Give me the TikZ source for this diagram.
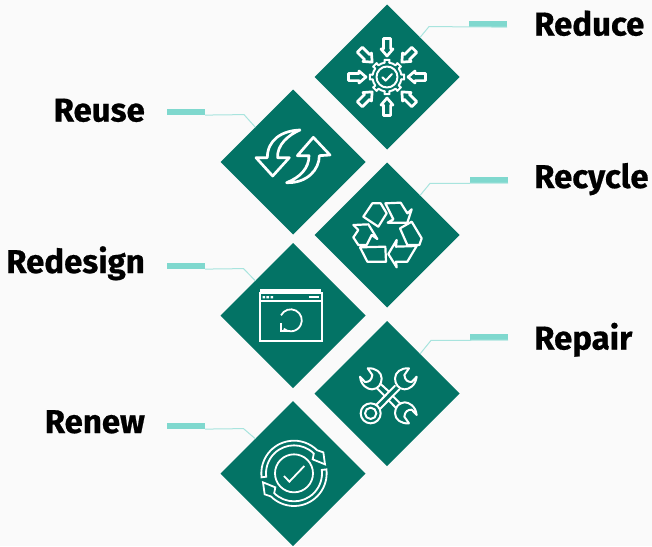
\documentclass[tikz,border=0pt]{standalone}
\usepackage{fontspec}
\setmainfont{Fira Sans}[BoldFont={Fira Sans Bold},BoldFeatures={FakeBold=0.6}]
\usetikzlibrary{shapes.geometric,calc}
\definecolor{pagebg}{HTML}{FAFAFA}
\definecolor{teal}{HTML}{037365}
\definecolor{barcol}{HTML}{7FD8CE}
\definecolor{wirecol}{HTML}{A8E4DE}
\tikzset{
  x=1pt,y=1pt,
  tile/.style={shape=diamond,aspect=1,fill=teal,minimum width=145pt,minimum height=145pt,inner sep=0pt,outer sep=0pt},
  barnode/.style={rectangle,fill=barcol,minimum width=38pt,minimum height=6.2pt,inner sep=0pt,outer sep=0pt},
  wire/.style={draw=wirecol,line width=1pt},
  lab/.style={font=\fontsize{33}{38}\selectfont\bfseries,text=black,inner sep=0pt},
  icon/.style={draw=white,line width=2.7pt,line join=round,line cap=round},
  recycle line/.style={draw=white,line width=2.2pt,line join=round,line cap=round},
  thin icon/.style={draw=white,line width=1.8pt,line join=miter,line cap=butt},
  wrench line/.style={draw=white,line width=2pt,line join=round,line cap=round},
}
\newcommand{\wrenchshape}{%
  \draw[wrench line] (10,-30) -- (-4,-10) .. controls (-2,6) and (6,11) .. (18,11) -- (33,-5)
      .. controls (30,22) and (10,33) .. (-3,33)
      .. controls (-22,33) and (-32,16) .. (-32,0)
      .. controls (-32,-18) and (-14,-32) .. cycle;}
\begin{document}
\begin{tikzpicture}
\useasboundingbox[fill=pagebg] (0,0) rectangle (652,-546);

% tiles
\node[tile] (d1) at (387,-77) {};
\node[tile] (d2) at (293,-162) {};
\node[tile] (d3) at (387,-235) {};
\node[tile] (d4) at (293,-315.5) {};
\node[tile] (d5) at (387,-393.5) {};
\node[tile] (d6) at (293,-473.5) {};

% bars
\node[barnode] (b1) at (488,-24) {};
\node[barnode] (b2) at (186,-112) {};
\node[barnode] (b3) at (489,-180) {};
\node[barnode] (b4) at (186,-266) {};
\node[barnode] (b5) at (489,-337) {};
\node[barnode] (b6) at (186,-426) {};

% connectors
\coordinate (e1) at (429,-26.6);
\coordinate (e2) at (244,-114.6);
\coordinate (e3) at (430,-183.4);
\coordinate (e4) at (243.5,-268.6);
\coordinate (e5) at (431,-340.4);
\coordinate (e6) at (243.5,-428.6);
\draw[wire] (b1.south east) -- (e1) -- ($(d1.north)!0.455!(d1.east)$);
\draw[wire] (b2.south east) -- (e2) -- ($(d2.north)!0.52!(d2.west)$);
\draw[wire] (b3.south east) -- (e3) -- ($(d3.north)!0.455!(d3.east)$);
\draw[wire] (b4.south east) -- (e4) -- ($(d4.north)!0.52!(d4.west)$);
\draw[wire] (b5.south east) -- (e5) -- ($(d5.north)!0.455!(d5.east)$);
\draw[wire] (b6.south east) -- (e6) -- ($(d6.north)!0.52!(d6.west)$);

% labels
\node[lab,anchor=base west] (t1) at (534,-35.5) {Reduce};
\node[lab,anchor=base east] (t2) at (145,-121.5) {Reuse};
\node[lab,anchor=base west] (t3) at (534,-188) {Recycle};
\node[lab,anchor=base east] (t4) at (145,-273) {Redesign};
\node[lab,anchor=base west] (t5) at (534,-349.5) {Repair};
\node[lab,anchor=base east] (t6) at (145,-433) {Renew};

% Reduce icon
\begin{scope}[shift={(d1.center)}]
  \foreach \a in {0,45,...,315}{
    \begin{scope}[rotate=\a]
      \draw[icon] (38.5,-3.6) -- (28,-3.6) -- (28,-6) -- (21,0) -- (28,6) -- (28,3.6) -- (38.5,3.6) -- cycle;
    \end{scope}}
  \foreach \a in {0,45,...,315}{
    \begin{scope}[rotate=\a]
      \draw[icon,line width=2pt] (-9:14.5) -- (-8:17.3) -- (8:17.3) -- (9:14.5) arc[start angle=9,end angle=36,radius=14.5];
    \end{scope}}
  \draw[icon,line width=2pt] (0,0) circle[radius=10.5];
  \draw[icon,line width=2pt] (-4.6,-0.3) -- (-1.3,-3.6) -- (5,3);
\end{scope}

% Reuse icon
\begin{scope}[shift={(160,-90)},xscale=1/3,yscale=-1/3]
  \draw[icon] (420,120) .. controls (365,122) and (322,150) .. (322,203)
    -- (288,203) -- (338,258) -- (388,203) -- (353,203)
    .. controls (350,165) and (385,135) .. cycle;
  \draw[icon] (380,278) .. controls (440,280) and (478,240) .. (478,197)
    -- (510,195) -- (460,142) -- (412,197) -- (447,197)
    .. controls (447,235) and (420,262) .. cycle;
\end{scope}

% Recycle icon
\begin{scope}[shift={(310,-160)},xscale=1/3,yscale=-1/3]
  \draw[recycle line] (160,170) -- (187,130) -- (212,130) -- (230,160) -- (205,200) -- cycle;
  \draw[recycle line] (226,130) -- (272,128) -- (292,160) -- (305,148) -- (292,188) -- (233,188) -- (250,178) -- cycle;
  \draw[recycle line] (270,205) -- (305,185) -- (335,235) -- (328,255) -- (292,255) -- cycle;
  \draw[recycle line] (320,258) -- (292,305) -- (258,305) -- (260,322) -- (235,282) -- (260,240) -- (258,260) -- cycle;
  \draw[recycle line] (150,262) -- (226,260) -- (228,305) -- (172,305) -- cycle;
  \draw[recycle line] (130,195) -- (175,193) -- (202,237) -- (185,225) -- (170,255) -- (145,255) -- (130,232) -- (145,210) -- cycle;
\end{scope}

% Redesign icon
\begin{scope}[shift={(160,-240)},xscale=1/3,yscale=-1/3]
  \draw[thin icon,line width=2.4pt] (300,151) -- (482,151);
  \draw[thin icon] (300,160) rectangle (487,302);
  \draw[thin icon] (300,182) -- (487,182);
  \fill[white] (308,168) rectangle (315,175) (319,168) rectangle (327,175) (332,168) rectangle (339,175);
  \fill[white] (447,168) rectangle (477,175);
  \draw[thin icon] (363,226) arc[start angle=207,end angle=490,radius=33];
  \draw[thin icon] (362,250) -- (362,272) -- (385,272);
\end{scope}

% Repair icon
\begin{scope}[shift={(310,-320)},xscale=1/3,yscale=-1/3]
  \begin{scope}[shift={(287,175)}]\wrenchshape\end{scope}
  \begin{scope}[shift={(183,175)},xscale=-1]\wrenchshape\end{scope}
  \begin{scope}[shift={(287,280)},yscale=-1]\wrenchshape\end{scope}
  \draw[wrench line] (182,280) circle[radius=30];
  \draw[wrench line] (182,280) circle[radius=17];
  \draw[wrench line] (200,253) -- (255,197) (212,265) -- (268,208);
  \draw[wrench line] (212,192) -- (236,214) (200,204) -- (222,226);
  \draw[wrench line] (248,228) -- (272,252) (236,241) -- (258,264);
\end{scope}

% Renew icon
\begin{scope}[shift={(160,-400)},xscale=1/3,yscale=-1/3]
  \begin{scope}[shift={(402,220)}]
    \foreach \r in {0,180}{
      \begin{scope}[rotate=\r]
        \draw[thin icon] (173:98) arc[start angle=173,end angle=315,radius=98]
          -- (88,-63) -- (93,-27) -- (56,-42) -- (315:84)
          arc[start angle=315,end angle=173,radius=84] -- cycle;
      \end{scope}}
    \draw[thin icon] (0,0) circle[radius=57];
    \draw[thin icon] (-30,8) -- (-14,25) -- (31,-22);
  \end{scope}
\end{scope}
\end{tikzpicture}
\end{document}
